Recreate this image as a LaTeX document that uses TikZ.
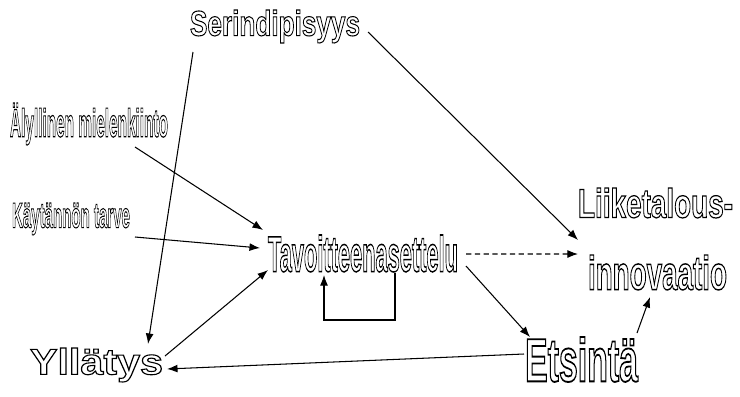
\documentclass[tikz,border=0pt]{standalone}
\usepackage{fontspec}
\setmainfont{Liberation Sans}[BoldFont={Liberation Sans Bold}]
\usepackage{graphicx}
\usetikzlibrary{arrows.meta}

% one picture unit (the grid the layout is drawn on)
\newdimen\pxu \pxu=0.02cm

% hollow (outlined) lettering squeezed into a box of given width and total height
\newcommand\hollow[3]{%
  \resizebox*{#1\pxu}{#2\pxu}{\fontsize{30}{30}\selectfont\bfseries
    \special{pdf:literal direct 1 Tr 0.9 w}#3\special{pdf:literal direct 0 Tr}}}

\tikzset{
  word/.style={inner sep=0pt, outer sep=0pt, anchor=center},
  arr/.style={line width=0.6pt, -{Latex[length=6pt,width=4.5pt]}},
  dasharr/.style={arr, densely dashed}
}

\begin{document}
\begin{tikzpicture}[x=0.02cm, y=-0.02cm]
  \fill[white] (0,0) rectangle (740,396);
  \useasboundingbox (0,0) rectangle (740,396);

  % words
  \node[word] (ser)  at (275,26.5)  {\hollow{170}{33}{Serindipisyys}};
  \node[word] (aly)  at (89,124)    {\hollow{158}{42}{Älyllinen mielenkiinto}};
  \node[word] (kay)  at (71,219)    {\hollow{118}{32}{Käytännön tarve}};
  \node[word] (tav)  at (363,253.5) {\hollow{190}{37}{Tavoitteenasettelu}};
  \node[word] (liik) at (655.5,203) {\hollow{155}{30}{Liiketalous-}};
  \node[word] (inno) at (657.5,272.5){\hollow{139}{35}{innovaatio}};
  \node[word] (yll)  at (96.5,365)  {\hollow{133}{34}{Yllätys}};
  \node[word] (ets)  at (581.5,359.5){\hollow{113}{45}{Etsintä}};

  % connectors
  \draw[arr] ([shift={(8,5.5)}]ser.east) -- ([shift={(-10,-15)}]inno.north west);
  \draw[arr] ([shift={(3,9)}]ser.south west) -- ([shift={(-15,-4)}]yll.north east);
  \draw[arr] ([shift={(-33,2)}]aly.south east) -- ([shift={(-5,-5)}]tav.north west);
  \draw[arr] ([shift={(5,2)}]kay.south east) -- ([shift={(-8,-5.5)}]tav.west);
  \draw[arr] ([shift={(2,8)}]yll.north east) -- ([shift={(0,-2)}]tav.south west);
  \draw[dasharr] ([shift={(8,0.5)}]tav.east) -- ([shift={(-10,-18.5)}]inno.west);
  \draw[arr] ([shift={(8,12.5)}]tav.east) -- ([shift={(5,0)}]ets.north west);
  \draw[arr] ([shift={(-1,-4)}]ets.north east) -- ([shift={(-7.5,7)}]inno.south);
  \draw[arr] ([shift={(-1,-5.5)}]ets.west) -- ([shift={(4,4)}]yll.east);
  % feedback loop under the goal-setting word
  \draw[arr] ([shift={(32,1)}]tav.south) -- ++(0,47) -| ([shift={(-39,3)}]tav.south);
\end{tikzpicture}
\end{document}
